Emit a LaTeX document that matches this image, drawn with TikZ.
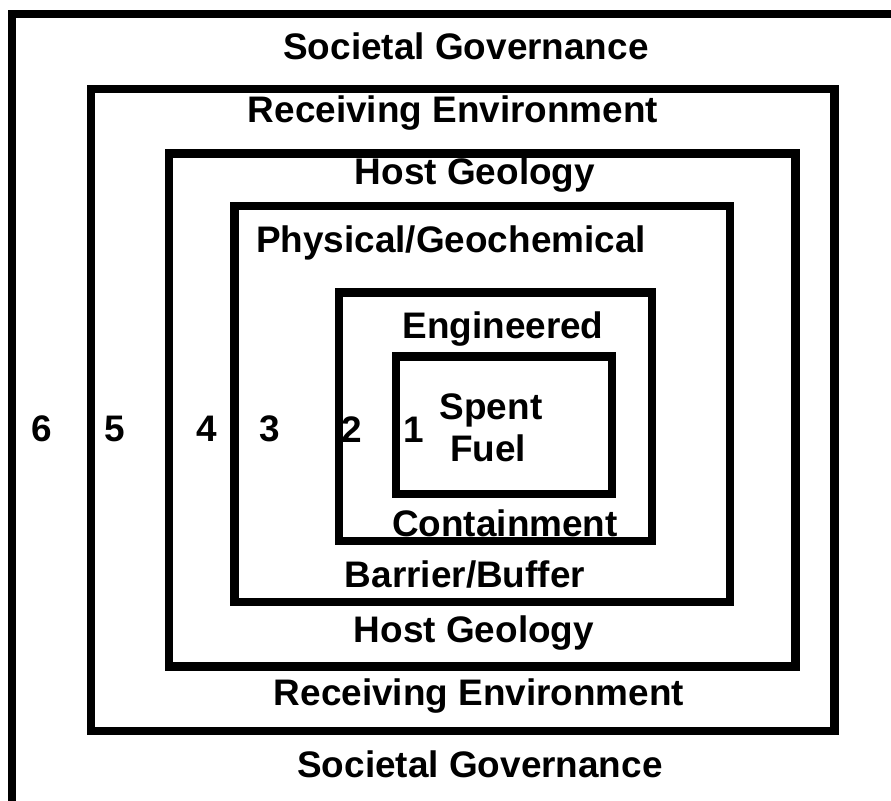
\documentclass[tikz,border=0pt]{standalone}
\usepackage{fontspec}
\setmainfont{Liberation Sans}
\begin{document}
\begin{tikzpicture}[x=0.01cm,y=-0.01cm]
	\tikzset{couche/.style={draw,line width=2.3pt},etiquette/.style={font=\fontsize{10.5}{12}\selectfont\bfseries,anchor=base,inner sep=0pt}}
	\clip (0,0) rectangle (891,801);
	% boxes, outside to inside
	\draw[couche] (12,14) rectangle (930,840);
	\draw[couche] (91,89) rectangle (834.5,731);
	\draw[couche] (169,153.5) rectangle (795.5,666.5);
	\draw[couche] (234.5,206) rectangle (730,602);
	\draw[couche] (339,292.5) rectangle (652,541);
	\draw[couche] (396,356.5) rectangle (612,494);
	% layer names
	\node[etiquette] (l6a) at (466,60) {Societal Governance};
	\node[etiquette] (l5a) at (453,123) {Receiving Environment};
	\node[etiquette] (l4a) at (475,185) {Host Geology};
	\node[etiquette] (l3a) at (451,253) {Physical/Geochemical};
	\node[etiquette] (l2a) at (503,339) {Engineered};
	\node[etiquette] (l1a) at (491,420) {Spent};
	\node[etiquette] (l1b) at (488,462) {Fuel};
	\node[etiquette] (l2b) at (505,537) {Containment};
	\node[etiquette] (l3b) at (465,588) {Barrier/Buffer};
	\node[etiquette] (l4b) at (474,643) {Host Geology};
	\node[etiquette] (l5b) at (479,706) {Receiving Environment};
	\node[etiquette] (l6b) at (480,778) {Societal Governance};
	% layer numbers
	\node[etiquette] (n6) at (42,442) {6};
	\node[etiquette] (n5) at (115,442) {5};
	\node[etiquette] (n4) at (207,442) {4};
	\node[etiquette] (n3) at (270,442) {3};
	\node[etiquette] (n2) at (352,443) {2};
	\node[etiquette] (n1) at (414,443) {1};
\end{tikzpicture}
\end{document}
